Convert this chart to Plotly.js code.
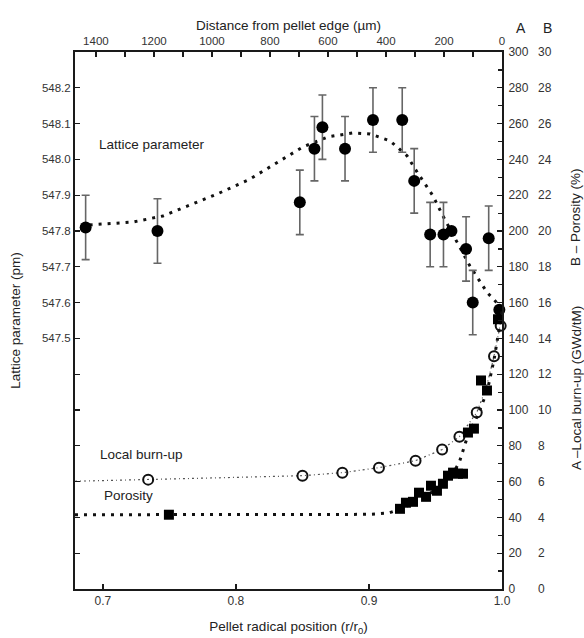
<!DOCTYPE html>
<html>
<head>
<meta charset="utf-8">
<script src="https://cdn.plot.ly/plotly-3.0.1.min.js"></script>
<style>html,body{margin:0;padding:0;background:#fff;}#chart{width:584px;height:638px;}</style>
</head>
<body>
<div id="chart"></div>
<script>
// Lattice parameter (pm) measurements with error bars
const latticeR   = [0.687, 0.741, 0.848, 0.859, 0.865, 0.882, 0.903, 0.925, 0.934, 0.946, 0.956, 0.962, 0.973, 0.978, 0.990, 0.998];
const latticeVal = [547.81, 547.80, 547.88, 548.03, 548.09, 548.03, 548.11, 548.11, 547.94, 547.79, 547.79, 547.80, 547.75, 547.60, 547.78, 547.58];
const latticeErr = [0.09, 0.09, 0.09, 0.09, 0.09, 0.09, 0.09, 0.09, 0.09, 0.09, 0.09, 0, 0.09, 0.09, 0.09, 0];
// Lattice parameter fitted curve
const latticeFitR   = [0.690, 0.7226, 0.7451, 0.7632, 0.7857, 0.8105, 0.8353, 0.8504, 0.8692, 0.8880, 0.9008, 0.9158, 0.9286, 0.9361, 0.9481, 0.9556, 0.9662, 0.9759, 0.9887, 0.9985];
const latticeFitVal = [547.817, 547.825, 547.842, 547.870, 547.903, 547.945, 548.001, 548.035, 548.063, 548.074, 548.071, 548.052, 548.010, 547.965, 547.898, 547.842, 547.769, 547.702, 547.629, 547.590];
// Local burn-up (GWd/tM), axis A
const burnupR   = [0.734, 0.850, 0.880, 0.9075, 0.935, 0.955, 0.968, 0.981, 0.994, 0.999];
const burnupVal = [61.1, 63.3, 65.0, 67.8, 71.7, 77.9, 85.1, 98.6, 130, 147];
const burnupFitR   = [0.679, 0.700, 0.734, 0.780, 0.850, 0.880, 0.9075, 0.935, 0.955, 0.968, 0.981, 0.988, 0.994, 0.998, 1.0];
const burnupFitVal = [60.2, 60.5, 61.1, 62.0, 63.3, 65.0, 67.8, 71.7, 77.9, 85.1, 98.6, 112, 130, 145, 155];
// Porosity (%), axis B
const porosityR   = [0.7496, 0.9233, 0.9278, 0.9331, 0.9376, 0.9429, 0.9466, 0.9511, 0.9556, 0.9594, 0.9632, 0.9669, 0.9707, 0.9744, 0.9789, 0.9842, 0.9887, 0.997];
const porosityVal = [4.15, 4.48, 4.82, 4.87, 5.38, 5.15, 5.77, 5.49, 5.88, 6.33, 6.50, 6.44, 6.44, 8.74, 8.96, 11.65, 11.09, 15.07];
const porosityFitR   = [0.679, 0.800, 0.900, 0.915, 0.925, 0.935, 0.945, 0.955, 0.962, 0.968, 0.974, 0.981, 0.9887, 0.994, 0.998, 1.0];
const porosityFitVal = [4.15, 4.15, 4.17, 4.25, 4.5, 4.9, 5.3, 5.8, 6.3, 7.1, 8.5, 9.6, 11.0, 12.8, 14.5, 15.5];
// Axis tick labels
const leftTickVals = [547.5, 547.6, 547.7, 547.8, 547.9, 548.0, 548.1, 548.2];
const leftTickText = ['547.5', '547.6', '547.7', '547.8', '547.9', '548.0', '548.1', '548.2'];
const bottomTickVals = [0.7, 0.8, 0.9, 1.0];
const bottomTickText = ['0.7', '0.8', '0.9', '1.0'];

const R_MIN = 0.679, R_MAX = 1.0;
const PELLET_RADIUS_UM = 4586;
const DIST_MAX = PELLET_RADIUS_UM * (1 - R_MIN);

const FONT = '"Liberation Sans", Arial, Helvetica, sans-serif';
const AX = '#1a1a1a';
const TXT = '#333';

const traces = [
  {x: latticeFitR, y: latticeFitVal, xaxis: 'x', yaxis: 'y', mode: 'lines',
   line: {color: '#111', width: 3, dash: '3px,6px'}, hoverinfo: 'skip', showlegend: false},
  {x: burnupFitR, y: burnupFitVal, xaxis: 'x', yaxis: 'y2', mode: 'lines',
   line: {color: '#555', width: 1.2, dash: '2px,3px,1px,3px'}, hoverinfo: 'skip', showlegend: false},
  {x: porosityFitR, y: porosityFitVal, xaxis: 'x', yaxis: 'y3', mode: 'lines',
   line: {color: '#111', width: 3, dash: '3px,6px'}, hoverinfo: 'skip', showlegend: false},
  {x: latticeR, y: latticeVal, xaxis: 'x', yaxis: 'y', mode: 'markers', cliponaxis: false,
   marker: {symbol: 'circle', size: 12, color: '#000'},
   error_y: {type: 'data', array: latticeErr, visible: true, color: '#666', thickness: 1.6, width: 4},
   showlegend: false},
  {x: burnupR, y: burnupVal, xaxis: 'x', yaxis: 'y2', mode: 'markers', cliponaxis: false,
   marker: {symbol: 'circle-open', size: 10, color: '#111', line: {width: 2, color: '#111'}},
   showlegend: false},
  {x: porosityR, y: porosityVal, xaxis: 'x', yaxis: 'y3', mode: 'markers', cliponaxis: false,
   marker: {symbol: 'square', size: 10, color: '#000'}, showlegend: false},
  // helper so the top distance axis is drawn
  {x: [DIST_MAX, 0], y: [547.0, 547.0], xaxis: 'x2', yaxis: 'y', mode: 'markers',
   marker: {opacity: 0}, hoverinfo: 'skip', showlegend: false}
];

const layout = {
  width: 584, height: 638,
  margin: {l: 75, r: 82, t: 52, b: 49},
  paper_bgcolor: '#fff', plot_bgcolor: '#fff',
  font: {family: FONT, size: 12, color: TXT},
  showlegend: false,
  xaxis: {
    range: [R_MIN, R_MAX], tickvals: bottomTickVals, ticktext: bottomTickText,
    ticks: 'inside', ticklen: 5, tickwidth: 1.2, tickcolor: AX,
    showline: true, linecolor: AX, linewidth: 2, showgrid: false, zeroline: false,
    tickfont: {size: 12, color: TXT},
    title: {text: 'Pellet radical position (r/r<sub>0</sub>)', font: {size: 13.5, color: '#222'}, standoff: 14}
  },
  xaxis2: {
    overlaying: 'x', side: 'top', anchor: 'y',
    range: [DIST_MAX, 0], dtick: 200, tick0: 0,
    ticks: 'inside', ticklen: 5, tickwidth: 1.2, tickcolor: AX,
    minor: {dtick: 100, ticks: 'inside', ticklen: 5, tickcolor: AX, tickwidth: 1.2},
    showline: true, linecolor: AX, linewidth: 2, showgrid: false, zeroline: false,
    tickfont: {size: 11.5, color: TXT},
    title: {text: 'Distance from pellet edge (µm)', font: {size: 13.5, color: '#222'}, standoff: 2}
  },
  yaxis: {
    range: [546.8, 548.3], tickvals: leftTickVals, ticktext: leftTickText,
    ticks: 'inside', ticklen: 5, tickwidth: 1.2, tickcolor: AX,
    minor: {tick0: 546.8, dtick: 0.1, ticks: 'inside', ticklen: 5, tickcolor: AX, tickwidth: 1.2},
    showline: true, linecolor: AX, linewidth: 2, showgrid: false, zeroline: false,
    tickfont: {size: 11.5, color: TXT},
    title: {text: 'Lattice parameter (pm)', font: {size: 13.5, color: '#222'}, standoff: 18}
  },
  yaxis2: {
    overlaying: 'y', side: 'right', anchor: 'x',
    range: [0, 300], dtick: 20, tick0: 0,
    ticks: 'inside', ticklen: 5, tickwidth: 1.2, tickcolor: AX,
    minor: {dtick: 10, ticks: 'inside', ticklen: 4, tickcolor: AX, tickwidth: 1.2},
    showline: true, linecolor: AX, linewidth: 2, showgrid: false, zeroline: false,
    ticklabelstandoff: 2,
    tickfont: {size: 12, color: TXT}
  },
  yaxis3: {
    overlaying: 'y', side: 'right', anchor: 'x',
    range: [0, 30], dtick: 2, tick0: 0,
    ticks: '', showline: false, showgrid: false, zeroline: false,
    ticklabelstandoff: 35,
    tickfont: {size: 12, color: TXT}
  },
  annotations: [
    {text: 'Lattice parameter', x: 0.6955, y: 548.043, xref: 'x', yref: 'y', xanchor: 'left', yanchor: 'middle',
     showarrow: false, font: {size: 13.5, color: '#222'}},
    {text: 'Local burn-up', x: 0.6962, y: 75, xref: 'x', yref: 'y2', xanchor: 'left', yanchor: 'middle',
     showarrow: false, font: {size: 13.5, color: '#222'}},
    {text: 'Porosity', x: 0.6992, y: 52, xref: 'x', yref: 'y2', xanchor: 'left', yanchor: 'middle',
     showarrow: false, font: {size: 13.5, color: '#222'}},
    {text: 'A', x: 521, y: 28, showarrow: false, font: {size: 14, color: '#222'}},
    {text: 'B', x: 547, y: 28, showarrow: false, font: {size: 14, color: '#222'}},
    {text: 'B – Porosity (%)', x: 576, y: 217, textangle: -90, showarrow: false, font: {size: 13.5, color: '#222'}},
    {text: 'A –Local burn-up (GWd/tM)', x: 576, y: 388, textangle: -90, showarrow: false, font: {size: 13.5, color: '#222'}}
  ]
};

// Convert pixel-positioned header/side labels to paper coordinates
const plotW = 584 - 75 - 82, plotH = 638 - 52 - 49;
layout.annotations.forEach(a => {
  if (a.xref === undefined) {
    a.xref = 'paper'; a.yref = 'paper';
    a.x = (a.x - 75) / plotW;
    a.y = (638 - 49 - a.y) / plotH;
    a.xanchor = 'center'; a.yanchor = 'middle';
  }
});

Plotly.newPlot('chart', traces, layout, {displayModeBar: false, staticPlot: true});
</script>
</body>
</html>
